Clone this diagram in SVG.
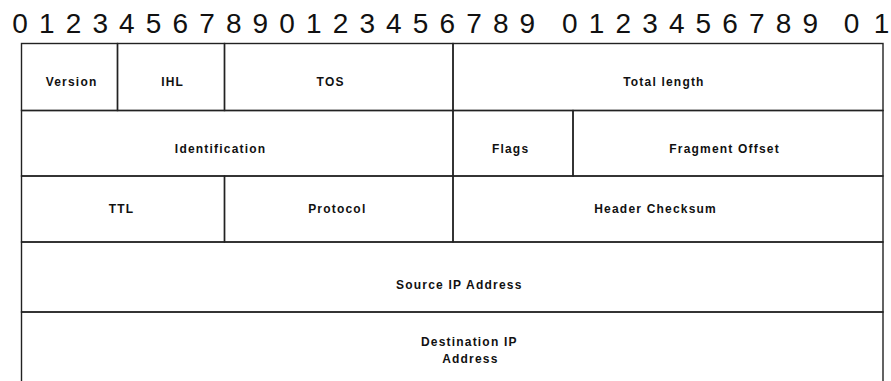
<svg xmlns="http://www.w3.org/2000/svg" width="891" height="381" viewBox="0 0 891 381">
<style>
.cell{fill:none;stroke:#222;stroke-width:1.4}
.lbl{font-family:"Liberation Sans",Arial,sans-serif;font-size:12px;font-weight:bold;letter-spacing:1.2px;fill:#111;text-anchor:middle}
.bits{font-family:"Liberation Sans",Arial,sans-serif;font-size:28px;fill:#111}
</style>
<rect width="891" height="381" fill="#fff"/>
<text class="bits" y="33.3" x="12.3 39 65.7 92.4 119.1 145.8 172.5 199.2 225.9 252.6 279.3 306 332.7 359.4 386.1 412.8 439.5 466.2 492.9 519.6 562.1 588.8 615.5 642.2 668.9 695.6 722.3 749 775.7 802.4 843.8 873.7">01234567890123456789012345678901</text>
<g id="version"><rect class="cell" x="21.5" y="43.5" width="96" height="67"/><text class="lbl" x="71.6" y="86">Version</text></g>
<g id="ihl"><rect class="cell" x="117.5" y="43.5" width="107" height="67"/><text class="lbl" x="172.6" y="86">IHL</text></g>
<g id="tos"><rect class="cell" x="224.5" y="43.5" width="228.5" height="67"/><text class="lbl" x="330.6" y="86">TOS</text></g>
<g id="total-length"><rect class="cell" x="453" y="43.5" width="430" height="67"/><text class="lbl" x="663.9" y="86">Total length</text></g>
<g id="identification"><rect class="cell" x="21.5" y="110.5" width="431.5" height="65.5"/><text class="lbl" x="220.6" y="152.5">Identification</text></g>
<g id="flags"><rect class="cell" x="453" y="110.5" width="120" height="65.5"/><text class="lbl" x="510.6" y="152.5">Flags</text></g>
<g id="fragment-offset"><rect class="cell" x="573" y="110.5" width="310" height="65.5"/><text class="lbl" x="724.6" y="152.5">Fragment Offset</text></g>
<g id="ttl"><rect class="cell" x="21.5" y="176" width="203" height="66"/><text class="lbl" x="121.6" y="213">TTL</text></g>
<g id="protocol"><rect class="cell" x="224.5" y="176" width="228.5" height="66"/><text class="lbl" x="337.3" y="213">Protocol</text></g>
<g id="header-checksum"><rect class="cell" x="453" y="176" width="430" height="66"/><text class="lbl" x="655.6" y="213">Header Checksum</text></g>
<g id="source-ip"><rect class="cell" x="21.5" y="242" width="861.5" height="70"/><text class="lbl" x="459.3" y="289">Source IP Address</text></g>
<g id="destination-ip"><rect class="cell" x="21.5" y="312" width="861.5" height="100"/><text class="lbl" y="346"><tspan x="469.3">Destination IP</tspan><tspan x="470.4" y="362.7">Address</tspan></text></g>
<g id="connectors"></g>
</svg>
